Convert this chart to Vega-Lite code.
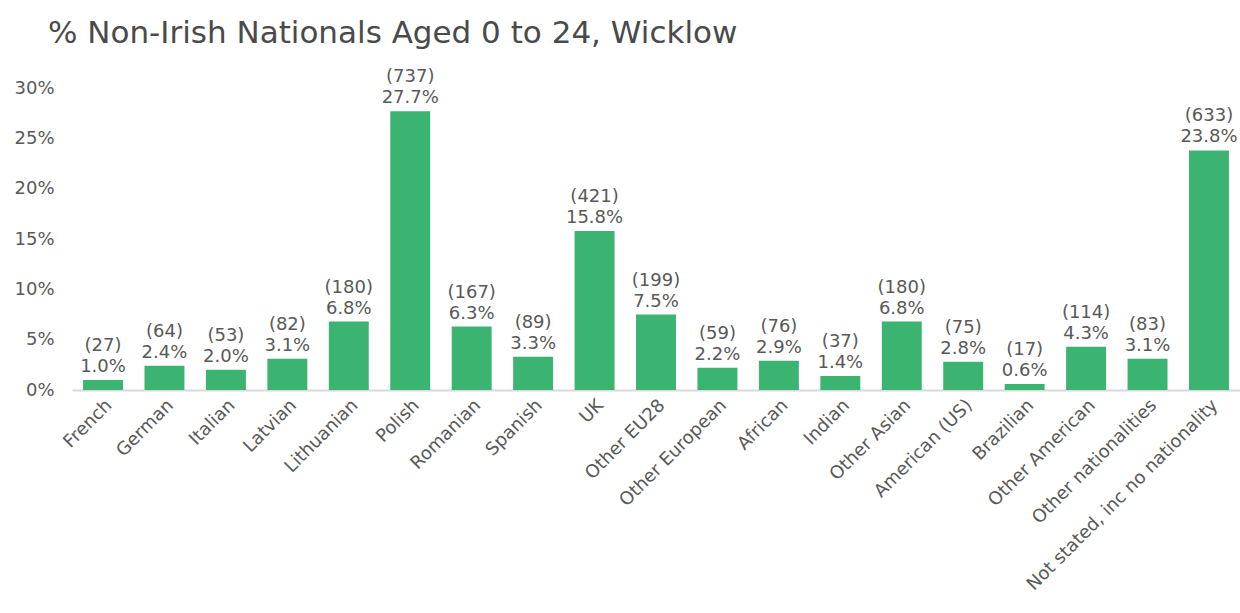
{
  "$schema": "https://vega.github.io/schema/vega-lite/v6.json",
  "width": 1168,
  "height": 302,
  "autosize": {"type": "none"},
  "padding": {"left": 72, "top": 88, "right": 0, "bottom": 223},
  "background": "white",
  "title": {
    "text": "% Non-Irish Nationals Aged 0 to 24, Wicklow",
    "anchor": "start",
    "frame": "group",
    "dx": -24,
    "offset": 18,
    "font": "DejaVu Sans",
    "fontSize": 31,
    "fontWeight": "normal",
    "color": "#4a4a4a"
  },
  "config": {
    "view": {"stroke": null},
    "font": "DejaVu Sans"
  },
  "data": {
    "values": [
      {"nat": "French", "n": 27, "pct": 0.010},
      {"nat": "German", "n": 64, "pct": 0.024},
      {"nat": "Italian", "n": 53, "pct": 0.020},
      {"nat": "Latvian", "n": 82, "pct": 0.031},
      {"nat": "Lithuanian", "n": 180, "pct": 0.068},
      {"nat": "Polish", "n": 737, "pct": 0.277},
      {"nat": "Romanian", "n": 167, "pct": 0.063},
      {"nat": "Spanish", "n": 89, "pct": 0.033},
      {"nat": "UK", "n": 421, "pct": 0.158},
      {"nat": "Other EU28", "n": 199, "pct": 0.075},
      {"nat": "Other European", "n": 59, "pct": 0.022},
      {"nat": "African", "n": 76, "pct": 0.029},
      {"nat": "Indian", "n": 37, "pct": 0.014},
      {"nat": "Other Asian", "n": 180, "pct": 0.068},
      {"nat": "American (US)", "n": 75, "pct": 0.028},
      {"nat": "Brazilian", "n": 17, "pct": 0.006},
      {"nat": "Other American", "n": 114, "pct": 0.043},
      {"nat": "Other nationalities", "n": 83, "pct": 0.031},
      {"nat": "Not stated, inc no nationality", "n": 633, "pct": 0.238}
    ]
  },
  "transform": [{"calculate": "'(' + datum.n + ')'", "as": "nlabel"}],
  "encoding": {
    "x": {
      "field": "nat",
      "type": "nominal",
      "sort": null,
      "scale": {"paddingInner": 0.35, "paddingOuter": 0.18},
      "axis": {
        "title": null,
        "labelAngle": -45,
        "labelFontSize": 18,
        "labelColor": "#595959",
        "labelPadding": 6,
        "ticks": false,
        "domainColor": "#d9d9d9",
        "domainWidth": 2,
        "labelLimit": 400
      }
    },
    "y": {
      "field": "pct",
      "type": "quantitative",
      "scale": {"domain": [0, 0.3]},
      "axis": {
        "title": null,
        "format": ".0%",
        "values": [0, 0.05, 0.1, 0.15, 0.2, 0.25, 0.3],
        "grid": false,
        "domain": false,
        "ticks": false,
        "labelFontSize": 18,
        "labelColor": "#595959",
        "labelPadding": 18
      }
    }
  },
  "layer": [
    {"mark": {"type": "bar", "color": "#3BB371"}},
    {
      "mark": {"type": "text", "baseline": "bottom", "dy": -4, "fontSize": 18, "color": "#595959"},
      "encoding": {"text": {"field": "pct", "type": "quantitative", "format": ".1%"}}
    },
    {
      "mark": {"type": "text", "baseline": "bottom", "dy": -25, "fontSize": 18, "color": "#595959"},
      "encoding": {"text": {"field": "nlabel", "type": "nominal"}}
    }
  ]
}
